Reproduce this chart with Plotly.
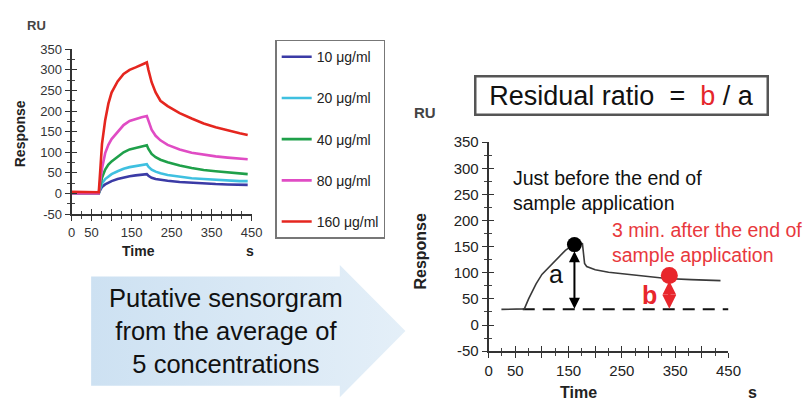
import plotly.graph_objects as go

W, H = 811, 409

# ---------------- data ----------------
conc_labels = ["10 μg/ml", "20 μg/ml", "40 μg/ml", "80 μg/ml", "160 μg/ml"]
conc_colors = ["#3b3ba6", "#3fc0e0", "#1fa04a", "#e04cc4", "#e5261f"]

left_time = [0, 20, 40, 60, 68, 72, 76, 84, 92, 100, 115, 130, 145, 160, 175, 188,
             192, 200, 210, 222, 240, 270, 300, 330, 360, 390, 420, 440]
resp_10 = [1, 1, 1, 1, 1, 9, 16, 22, 27, 30, 35, 39, 42, 44, 46, 47,
           43, 38, 35, 33, 31, 28, 26, 25, 23, 22, 22, 21]
resp_20 = [0, 0, 0, 0, 0, 13, 24, 35, 42, 47, 54, 60, 64, 67, 69, 71,
           65, 58, 53, 49, 45, 41, 37, 35, 33, 31, 30, 30]
resp_40 = [0, 0, 0, 0, 0, 20, 38, 58, 70, 78, 90, 100, 107, 111, 115, 117,
           108, 96, 88, 82, 76, 68, 62, 57, 54, 51, 48, 47]
resp_80 = [0, 0, 0, 0, 0, 32, 60, 98, 118, 132, 150, 166, 176, 181, 185, 188,
           175, 155, 140, 129, 118, 107, 99, 94, 90, 87, 84, 83]
resp_160 = [4, 4, 3, 3, 3, 60, 120, 178, 218, 245, 272, 290, 300, 306, 312, 318,
            300, 270, 245, 225, 212, 195, 182, 170, 161, 153, 146, 142]
left_series = [resp_10, resp_20, resp_40, resp_80, resp_160]

avg_time = [24, 40, 60, 67, 75, 89, 100, 119, 135, 144, 155, 165, 172, 176,
            180, 184, 200, 225, 254, 290, 334, 380, 435]
avg_resp = [30, 30, 30, 31, 50, 79, 97, 116, 133, 143, 151, 155, 157, 156,
            118, 112, 106, 101, 98, 94, 89, 87, 85]

baseline_x = [64, 450]
baseline_y = [30, 30]
end_point = (161, 154)        # just before end of sample application
residual_point = (339, 95)    # 3 min after end of sample application

x_tickvals = [0, 50, 100, 150, 200, 250, 300, 350, 400, 450]
x_ticktext = ["0", "50", "", "150", "", "250", "", "350", "", "450"]
y_tickvals = [-50, 0, 50, 100, 150, 200, 250, 300, 350]
y_ticktext = ["-50", "0", "50", "100", "150", "200", "250", "300", "350"]
x_range = [0, 450]
y_range = [-50, 350]

FONT = "Liberation Sans, Arial, sans-serif"


def px(x):
    return x / W


def py(y):
    return 1 - y / H


fig = go.Figure()

# background arrow (pixel overlay axes)
arrow_x = [89, 343, 343, 410, 343, 343, 89, 89]
arrow_y = [279, 279, 267, 336, 405, 393, 393, 279]
fig.add_trace(go.Scatter(
    x=arrow_x, y=arrow_y, mode="lines", fill="toself",
    line=dict(width=0, color="rgba(0,0,0,0)"),
    fillgradient=dict(type="horizontal",
                      colorscale=[[0, "#cde1f2"], [1, "#e4eff8"]]),
    xaxis="x3", yaxis="y3", showlegend=False, hoverinfo="skip"))

for name, vals, color in zip(conc_labels, left_series, conc_colors):
    fig.add_trace(go.Scatter(
        x=left_time, y=vals, mode="lines", name=name, legendgroup=name,
        line=dict(color=color, width=2.6), xaxis="x", yaxis="y"))

fig.add_trace(go.Scatter(
    x=baseline_x, y=baseline_y, mode="lines",
    line=dict(color="#111", width=2, dash="12px,8px"),
    xaxis="x2", yaxis="y2", showlegend=False))
fig.add_trace(go.Scatter(
    x=avg_time, y=avg_resp, mode="lines",
    line=dict(color="#3a3a3a", width=1.6),
    xaxis="x2", yaxis="y2", showlegend=False))
fig.add_trace(go.Scatter(
    x=[end_point[0]], y=[end_point[1]], mode="markers",
    marker=dict(color="#000", size=15),
    xaxis="x2", yaxis="y2", showlegend=False))
fig.add_trace(go.Scatter(
    x=[residual_point[0]], y=[residual_point[1]], mode="markers",
    marker=dict(color="#e8262c", size=17),
    xaxis="x2", yaxis="y2", showlegend=False))

# empty traces so the overlay (inside-tick) axes are drawn -> cross ticks
for xa, ya in (("x4", "y4"), ("x5", "y5")):
    fig.add_trace(go.Scatter(x=[None], y=[None], xaxis=xa, yaxis=ya,
                             showlegend=False, hoverinfo="skip"))

axis_common = dict(showline=True, linecolor="#333", linewidth=1.8,
                   ticks="outside", ticklen=5, tickcolor="#333", tickwidth=1.4,
                   showgrid=False, zeroline=False,
                   minor=dict(ticks="outside", ticklen=3, tickcolor="#444", dtick=25))
inner_common = dict(showline=False, ticks="inside", ticklen=5, tickcolor="#333",
                    tickwidth=1.4, showticklabels=False, showgrid=False,
                    zeroline=False,
                    minor=dict(ticks="inside", ticklen=3, tickcolor="#444", dtick=25))

layout = dict(
    width=W, height=H, margin=dict(l=0, r=0, t=0, b=0),
    paper_bgcolor="white", plot_bgcolor="rgba(0,0,0,0)",
    font=dict(family=FONT, color="#222"),
    xaxis=dict(domain=[px(69), px(253)], range=x_range, anchor="y",
               tickmode="array", tickvals=x_tickvals, ticktext=x_ticktext,
               tickfont=dict(size=13, color="#333"), **axis_common),
    yaxis=dict(domain=[py(214), py(42)], range=y_range, anchor="x",
               tickmode="array", tickvals=y_tickvals, ticktext=y_ticktext,
               tickfont=dict(size=13, color="#333"), **axis_common),
    xaxis2=dict(domain=[px(495), px(740)], range=x_range, anchor="y2",
                tickmode="array", tickvals=x_tickvals, ticktext=x_ticktext,
                tickfont=dict(size=15, color="#222"), **axis_common),
    yaxis2=dict(domain=[py(357), py(139)], range=y_range, anchor="x2",
                tickmode="array", tickvals=y_tickvals, ticktext=y_ticktext,
                tickfont=dict(size=15, color="#222"), **axis_common),
    xaxis3=dict(domain=[0, 1], range=[0, W], visible=False, anchor="y3",
                fixedrange=True),
    yaxis3=dict(domain=[0, 1], range=[H, 0], visible=False, anchor="x3",
                fixedrange=True),
    xaxis4=dict(overlaying="x", range=x_range, anchor="y4",
                tickmode="array", tickvals=x_tickvals, **inner_common),
    yaxis4=dict(overlaying="y", range=y_range, anchor="x4",
                tickmode="array", tickvals=y_tickvals, **inner_common),
    xaxis5=dict(overlaying="x2", range=x_range, anchor="y5",
                tickmode="array", tickvals=x_tickvals, **inner_common),
    yaxis5=dict(overlaying="y2", range=y_range, anchor="x5",
                tickmode="array", tickvals=y_tickvals, **inner_common),
    legend=dict(x=px(277), y=py(32), xanchor="left", yanchor="top",
                bgcolor="white", bordercolor="#777", borderwidth=1.5,
                font=dict(size=14, color="#222"), tracegroupgap=20,
                itemwidth=30),
    showlegend=True,
)
fig.update_layout(**layout)

ann = []


def label(text, x, y, size, bold=False, color="#222", angle=0, xanchor="center",
          align="center"):
    t = f"<b>{text}</b>" if bold else text
    ann.append(dict(text=t, x=px(x), y=py(y), xref="paper", yref="paper",
                    showarrow=False, xanchor=xanchor, yanchor="middle", align=align,
                    textangle=angle, font=dict(size=size, color=color, family=FONT)))


# left axis labels
label("RU", 33, 17, 13, bold=True, color="#444")
label("Response", 16, 130, 14, bold=True, angle=-90)
label("Time", 137, 253, 14, bold=True)
label("s", 251, 253, 14, bold=True)
# right axis labels
label("RU", 430, 108, 15, bold=True, color="#444")
label("Response", 425, 253, 16, bold=True, angle=-90)
label("Time", 587, 400, 16, bold=True)
label("s", 765, 400, 16, bold=True)

# Residual ratio box
ann.append(dict(text="Residual ratio  =  <span style='color:#e5262b'>b</span> / a",
                x=px(631), y=py(90), xref="paper", yref="paper", showarrow=False,
                xanchor="center", yanchor="middle", width=288, height=34,
                bordercolor="#555", borderwidth=2.5, bgcolor="white",
                font=dict(size=27, color="#111", family=FONT)))

# annotation texts in right chart
label("Just before the end of<br>sample application", 518, 189, 19.5, color="#111",
      xanchor="left", align="left")
label("3 min. after the end of<br>sample application", 619, 244, 19.5,
      color="#e8383d", xanchor="left", align="left")

# arrow text
ann.append(dict(text="Putative sensorgram<br>from the average of<br>5 concentrations",
                x=px(227), y=py(336), xref="paper", yref="paper", showarrow=False,
                xanchor="center", yanchor="middle",
                font=dict(size=25.5, color="#111", family=FONT)))

# a / b arrows
ann.append(dict(x=end_point[0], y=baseline_y[0] + 1, ax=end_point[0], ay=end_point[1] - 10,
                xref="x2", yref="y2", axref="x2", ayref="y2", text="",
                showarrow=True, arrowhead=2, arrowside="end+start",
                arrowsize=1.1, arrowwidth=2, arrowcolor="#000"))
ann.append(dict(x=residual_point[0], y=baseline_y[0] + 1, ax=residual_point[0],
                ay=residual_point[1] - 8,
                xref="x2", yref="y2", axref="x2", ayref="y2", text="",
                showarrow=True, arrowhead=2, arrowside="end+start",
                arrowsize=1.1, arrowwidth=2.5, arrowcolor="#e8262c"))
ann.append(dict(text="a", x=127, y=98, xref="x2", yref="y2", showarrow=False,
                font=dict(size=25, color="#111", family=FONT)))
ann.append(dict(text="<b>b</b>", x=302, y=58, xref="x2", yref="y2", showarrow=False,
                font=dict(size=25, color="#e8262c", family=FONT)))

fig.update_layout(annotations=ann)
fig.write_html("out.html")
